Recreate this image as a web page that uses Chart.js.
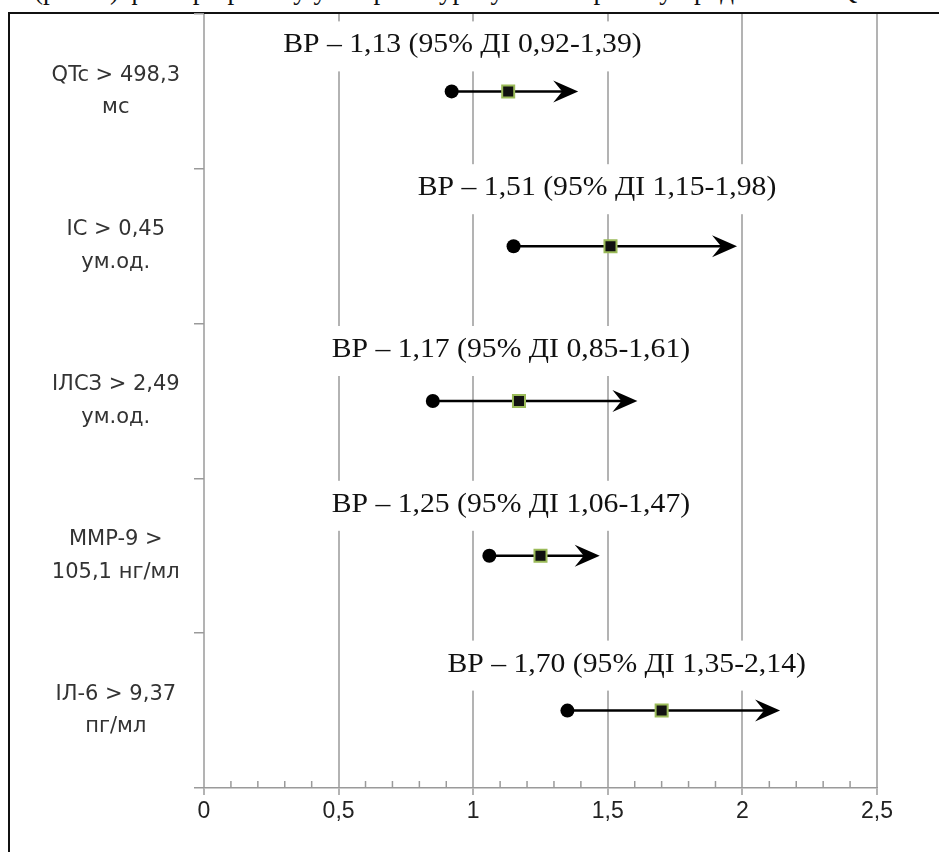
<!DOCTYPE html>
<html>
<head>
<meta charset="utf-8">
<script src="https://cdn.jsdelivr.net/npm/chart.js@4"></script>
<style>
  body { margin: 0; background: #fff; }
  #wrap { position: relative; width: 939px; height: 852px; overflow: hidden; }
  #cap { position: absolute; left: 34px; top: -25px; line-height: 30px; font: 27px "Liberation Serif", serif; color: #111; white-space: nowrap; }
  #frame { position: absolute; left: 8px; top: 12px; width: 960px; height: 900px; border-left: 2px solid #111; border-top: 2px solid #111; background: #fff; }
  canvas { position: absolute; left: 0; top: 0; }
</style>
</head>
<body>
<div id="wrap">
  <div id="cap">(рис. 3) фактори ризику у хворих з урахуванням ризику продовження QTc</div>
  <div id="frame"></div>
  <canvas id="forest" width="939" height="852"></canvas>
</div>
<script>
const rowLabels = [
    ['QTc > 498,3', 'мс'],
    ['ІС > 0,45', 'ум.од.'],
    ['ІЛСЗ > 2,49', 'ум.од.'],
    ['MMP-9 >', '105,1 нг/мл'],
    ['ІЛ-6 > 9,37', 'пг/мл']
];
const riskRatio = [1.13, 1.51, 1.17, 1.25, 1.70];
const ciLow = [0.92, 1.15, 0.85, 1.06, 1.35];
const ciHigh = [1.39, 1.98, 1.61, 1.47, 2.14];
const xTicks = [0, 0.5, 1, 1.5, 2, 2.5];

// where each "ВР – ..." caption sits: x centre in axis units, y shift from the row in px
const captionX = [0.96, 1.46, 1.14, 1.14, 1.57];
const captionDy = [-46, -58, -51, -51, -46];

const fmt = v => v.toFixed(2).replace('.', ',');
const captions = riskRatio.map((v, i) => `ВР – ${fmt(v)} (95% ДІ ${fmt(ciLow[i])}-${fmt(ciHigh[i])})`);

const forestPlugin = {
    id: 'forest',
    beforeDatasetsDraw(chart) {
        const { ctx, scales: { x, y }, chartArea } = chart;
        ctx.save();

        // minor ticks on the x axis
        ctx.strokeStyle = '#9a9a9a';
        ctx.lineWidth = 1.5;
        for (let i = 1; i < 25; i++) {
            if (i % 5 === 0) continue;
            const px = x.getPixelForValue(i / 10);
            ctx.beginPath();
            ctx.moveTo(px, chartArea.bottom);
            ctx.lineTo(px, chartArea.bottom - 7);
            ctx.stroke();
        }

        // captions on white boxes
        ctx.font = '27px "Liberation Serif"';
        ctx.textAlign = 'center';
        ctx.textBaseline = 'middle';
        captions.forEach((txt, i) => {
            const cx = x.getPixelForValue(captionX[i]);
            const cy = y.getPixelForValue(i) + captionDy[i];
            const w = ctx.measureText(txt).width * 1.1;
            ctx.fillStyle = '#fff';
            ctx.fillRect(cx - w / 2 - 5, cy - 24, w + 10, 50);
            ctx.save();
            ctx.translate(cx, cy);
            ctx.scale(1.1, 1);
            ctx.fillStyle = '#111';
            ctx.fillText(txt, 0, 0);
            ctx.restore();
        });

        // CI lines with arrow heads
        ctx.strokeStyle = '#000';
        ctx.fillStyle = '#000';
        ctx.lineWidth = 2.5;
        riskRatio.forEach((v, i) => {
            const py = y.getPixelForValue(i);
            const x0 = x.getPixelForValue(ciLow[i]);
            const x1 = x.getPixelForValue(ciHigh[i]);
            ctx.beginPath();
            ctx.moveTo(x0, py);
            ctx.lineTo(x1 - 12, py);
            ctx.stroke();
            ctx.beginPath();
            ctx.moveTo(x1, py);
            ctx.lineTo(x1 - 25, py - 11);
            ctx.lineTo(x1 - 16, py);
            ctx.lineTo(x1 - 25, py + 11);
            ctx.closePath();
            ctx.fill();
        });
        ctx.restore();
    }
};

new Chart(document.getElementById('forest'), {
    type: 'line',
    data: {
        labels: rowLabels,
        datasets: [
            {
                data: ciLow,
                showLine: false,
                pointStyle: 'circle',
                pointRadius: 7,
                pointBackgroundColor: '#000',
                pointBorderColor: '#000',
                pointBorderWidth: 0
            },
            {
                data: riskRatio,
                showLine: false,
                pointStyle: 'rect',
                pointRadius: 8.5,
                pointBackgroundColor: '#111',
                pointBorderColor: '#9bbb59',
                pointBorderWidth: 2
            }
        ]
    },
    options: {
        indexAxis: 'y',
        responsive: false,
        animation: false,
        layout: { padding: { top: 14, right: 62, left: 0, bottom: 0 } },
        plugins: {
            legend: { display: false },
            tooltip: { enabled: false }
        },
        scales: {
            x: {
                type: 'linear',
                min: 0,
                max: 2.5,
                afterFit: s => { s.height = 64; s.paddingLeft = 0; s.paddingRight = 0; },
                afterBuildTicks: s => { s.ticks = xTicks.map(v => ({ value: v })); },
                ticks: {
                    callback: v => String(v).replace('.', ','),
                    font: { family: 'Liberation Sans', size: 23 },
                    color: '#222',
                    padding: 3
                },
                grid: { color: '#b3b3b3', lineWidth: 2, tickLength: 7 },
                border: { color: '#9a9a9a', width: 1.5 }
            },
            y: {
                type: 'category',
                offset: true,
                afterFit: s => { s.width = 204; s.paddingTop = 0; s.paddingBottom = 0; },
                ticks: {
                    crossAlign: 'center',
                    padding: 14,
                    font: { family: 'DejaVu Sans', size: 21, lineHeight: 1.55 },
                    color: '#333'
                },
                grid: { offset: true, drawOnChartArea: false, tickLength: 10, color: '#9a9a9a', lineWidth: 1.5 },
                border: { display: false }
            }
        }
    },
    plugins: [forestPlugin]
});
</script>
</body>
</html>
